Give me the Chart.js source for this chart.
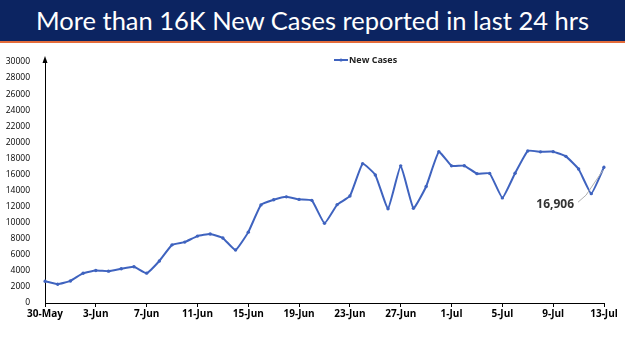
<!DOCTYPE html>
<html>
<head>
<meta charset="utf-8">
<script src="https://cdn.jsdelivr.net/npm/chart.js@4/dist/chart.umd.min.js"></script>
<style>
	html, body { margin: 0; padding: 0; background: #fff; }
	#wrap { position: relative; width: 625px; height: 351px; overflow: hidden; }
	#title {
		position: absolute; left: 0; top: 0; width: 625px; height: 41px;
		background: #0c2461; border-bottom: 2px solid #e46c3a;
		color: #fff; font-family: Lato, "Open Sans", sans-serif; font-size: 25.5px;
		line-height: 41px; text-align: center; white-space: nowrap; z-index: 2;
	}
	#chart { position: absolute; left: 0; top: 0; }
</style>
</head>
<body>
<div id="wrap">
	<div id="title">More than 16K New Cases reported in last 24 hrs</div>
	<canvas id="chart" width="625" height="351"></canvas>
</div>
<script>
let dates = [
	"30-May", "31-May", "1-Jun", "2-Jun", "3-Jun", "4-Jun", "5-Jun", "6-Jun", "7-Jun", "8-Jun",
	"9-Jun", "10-Jun", "11-Jun", "12-Jun", "13-Jun", "14-Jun", "15-Jun", "16-Jun", "17-Jun", "18-Jun",
	"19-Jun", "20-Jun", "21-Jun", "22-Jun", "23-Jun", "24-Jun", "25-Jun", "26-Jun", "27-Jun", "28-Jun",
	"29-Jun", "30-Jun", "1-Jul", "2-Jul", "3-Jul", "4-Jul", "5-Jul", "6-Jul", "7-Jul", "8-Jul",
	"9-Jul", "10-Jul", "11-Jul", "12-Jul", "13-Jul",
];
let newCases = [
	2706, 2338, 2745, 3712, 4041, 3962, 4270, 4518, 3714, 5233,
	7240, 7584, 8329, 8582, 8084, 6594, 8822, 12213, 12847, 13216,
	12899, 12781, 9923, 12249, 13313, 17336, 15940, 11739, 17073, 11793,
	14506, 18819, 17070, 17092, 16103, 16135, 13086, 16159, 18930, 18815,
	18840, 18257, 16678, 13615, 16906,
];
let yTicks = { min: 0, max: 30000, step: 2000 };

let lineColor = "#3f63bf";
let fontFamily = "'Open Sans', 'Liberation Sans', sans-serif";

// legend, y-axis arrow and the callout for the last value
let extras = {
	id: "extras",
	afterDraw(chart) {
		let ctx = chart.ctx;
		let y = chart.scales.y;
		ctx.save();
		// arrow on top of y axis
		ctx.fillStyle = "#000";
		ctx.beginPath();
		ctx.moveTo(y.right, y.top - 6);
		ctx.lineTo(y.right - 2.5, y.top + 1);
		ctx.lineTo(y.right + 2.5, y.top + 1);
		ctx.closePath();
		ctx.fill();

		// legend
		let lx = 334, ly = 60;
		ctx.strokeStyle = lineColor;
		ctx.lineWidth = 2;
		ctx.beginPath();
		ctx.moveTo(lx, ly);
		ctx.lineTo(lx + 14, ly);
		ctx.stroke();
		ctx.fillStyle = lineColor;
		ctx.beginPath();
		ctx.arc(lx + 7, ly, 1.6, 0, Math.PI * 2);
		ctx.fill();
		ctx.fillStyle = "#222";
		ctx.font = "bold 9px " + fontFamily;
		ctx.textBaseline = "middle";
		ctx.fillText(chart.data.datasets[0].label, lx + 15, ly);

		// callout for last point
		let meta = chart.getDatasetMeta(0);
		let last = meta.data[meta.data.length - 1];
		let value = newCases[newCases.length - 1];
		ctx.strokeStyle = "#b0b0b0";
		ctx.lineWidth = 1;
		ctx.beginPath();
		ctx.moveTo(last.x - 1, last.y + 3);
		ctx.lineTo(last.x - 18, last.y + 28);
		ctx.lineTo(last.x - 26, last.y + 35);
		ctx.stroke();
		ctx.fillStyle = "#333";
		ctx.font = "bold 12px " + fontFamily;
		ctx.textAlign = "right";
		ctx.fillText(value.toLocaleString("en-US"), last.x - 30, last.y + 37);
		ctx.restore();
	},
};

new Chart(document.getElementById("chart"), {
	type: "line",
	data: {
		labels: dates,
		datasets: [
			{
				label: "New Cases",
				data: newCases,
				borderColor: lineColor,
				backgroundColor: lineColor,
				borderWidth: 2,
				pointRadius: 1.7,
				pointHoverRadius: 1.7,
				pointBorderWidth: 0,
				tension: 0.12,
			},
		],
	},
	options: {
		responsive: false,
		animation: false,
		events: [],
		layout: { padding: { top: 62, right: 21, bottom: 27, left: 0 } },
		plugins: {
			legend: { display: false },
			tooltip: { enabled: false },
		},
		scales: {
			x: {
				offset: false,
				grid: {
					drawOnChartArea: false,
					color: "#000",
					tickLength: 4,
				},
				border: { display: true, color: "#000", width: 1 },
				ticks: {
					autoSkip: false,
					maxRotation: 0,
					color: "#000",
					padding: 1,
					font: { family: fontFamily, size: 10, weight: "bold" },
					callback: function (v, i) {
						return i % 4 === 0 ? dates[i] : null;
					},
				},
				afterFit: function (s) { s.height = 21; },
			},
			y: {
				min: yTicks.min,
				max: yTicks.max,
				grid: { display: false },
				border: { display: true, color: "#000", width: 1 },
				ticks: {
					stepSize: yTicks.step,
					color: "#000",
					padding: 7,
					font: { family: fontFamily, size: 8.5 },
					callback: function (v) { return String(v); },
				},
				afterFit: function (s) { s.width = 45; },
			},
		},
	},
	plugins: [extras],
});
</script>
</body>
</html>
